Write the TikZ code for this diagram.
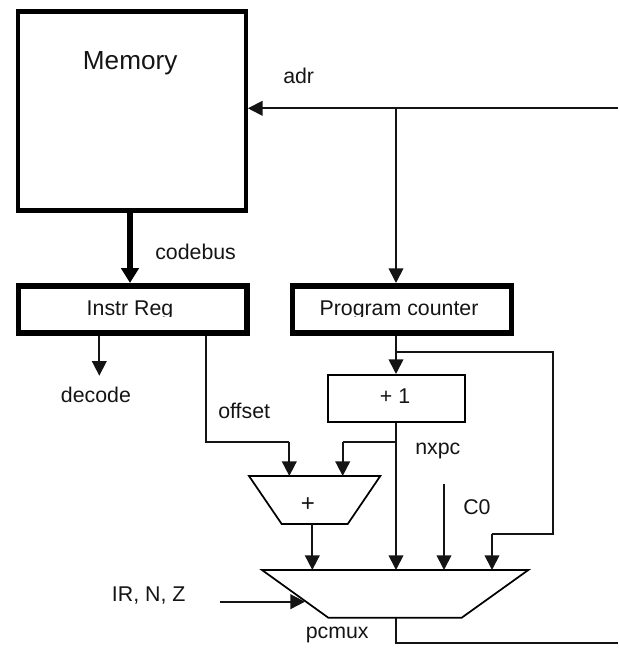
\documentclass[tikz,border=0pt]{standalone}
\usepackage{fontspec}
\setmainfont{Liberation Sans}
\usetikzlibrary{arrows.meta,calc}
\tikzset{
  x=0.75pt, y=-0.75pt,
  wire/.style={line width=1.3pt, draw=black!92},
  flow/.style={wire, -{Triangle[length=11pt,width=11pt]}},
  bus/.style={line width=3.9pt, -{Triangle[length=11.25pt,width=13pt]}},
  regbox/.style={draw, line width=4.2pt, inner sep=0pt, anchor=north west},
  membox/.style={draw, line width=3.2pt, inner sep=0pt, anchor=north west},
  incbox/.style={draw, line width=1.3pt, inner sep=0pt, anchor=north west},
  unit/.style={draw, line width=1.3pt, line join=miter},
  lab/.style={font=\fontsize{16}{16}\selectfont, inner sep=0pt, text=black!92},
  labl/.style={lab, anchor=base west},
  labc/.style={lab, anchor=base},
}
\begin{document}
\begin{tikzpicture}
\useasboundingbox (0,0) rectangle (618,648);
% boxes
\node[membox, minimum width=170.7pt, minimum height=149.4pt] (mem) at (16,9.3) {};
\node[regbox, minimum width=171.5pt, minimum height=35.2pt] (ir) at (15.7,283) {};
\node[regbox, minimum width=164.4pt, minimum height=35.6pt] (pc) at (289.5,283) {};
\node[incbox, minimum width=102.8pt, minimum height=35.2pt] (inc) at (327.3,374) {};
% adder and multiplexer
\coordinate (addTL) at (249,476);
\coordinate (addTR) at (380.3,476);
\coordinate (addBR) at (347.7,524);
\coordinate (addBL) at (281.7,524);
\draw[unit] (addTL) -- (addTR) -- (addBR) -- (addBL) -- cycle;
\coordinate (muxTL) at (262,570);
\coordinate (muxTR) at (528.3,570);
\coordinate (muxBR) at (461.7,617.7);
\coordinate (muxBL) at (328.3,617.7);
\draw[unit] (muxTL) -- (muxTR) -- (muxBR) -- (muxBL) -- cycle;
% labels
\node[labl, font=\fontsize{19.6}{20}\selectfont] (memL) at (82.7,70) {Memory};
\begin{scope}
  \clip (18,286) rectangle (241,316.7);
  \node[labc] (irL) at (130,315) {Instr Reg};
\end{scope}
\begin{scope}
  \clip (293,286) rectangle (505,316.7);
  \node[labc] (pcL) at (399,315) {Program counter};
\end{scope}
\node[labl] (codeL) at (155,259) {codebus};
\node[labl] (adrL) at (283,84) {adr};
\node[labl] (decL) at (60.7,402.7) {decode};
\node[labl] (offL) at (218,418.7) {offset};
\node[labl] (nxpcL) at (415,454) {nxpc};
\node[labl] (c0L) at (463,514) {C0};
\node[labl] (pcmuxL) at (305.5,638) {pcmux};
\node[labl] (irnzL) at (111.7,601) {IR, N, Z};
\node[labc] (incL) at (395,403) {+ 1};
\node[labc, font=\fontsize{18}{18}\selectfont] (addL) at (308,511.5) {+};
% free ends and junctions
\coordinate (adrR) at (618,108.3);
\coordinate (adrJ) at (396,108.3);
\coordinate (pcOut) at (396,352);
\coordinate (fbR) at (553,352);
\coordinate (fbB) at (553,533.7);
\coordinate (fbL) at (492,533.7);
\coordinate (nxJ) at (396,442.3);
\coordinate (nxL) at (342.7,442.3);
\coordinate (offB) at (206,442.3);
\coordinate (offR) at (289.3,442.3);
\coordinate (c0T) at (444,484.3);
\coordinate (irnzS) at (220,601.7);
\coordinate (irnzE) at (305,601.7);
\coordinate (decE) at (99.3,375.7);
\coordinate (outB) at (396,643.3);
\coordinate (outR) at (618,643.3);
% connectors
\draw[bus] (130,0 |- mem.south) -- (130,0 |- ir.north);
\draw[flow] (adrR) -- (mem.east |- adrR);
\draw[flow] (adrJ) -- (adrJ |- pc.north);
\draw[flow] (99.3,0 |- ir.south) -- (decE);
\draw[wire] (adrJ |- pc.south) -- (pcOut);
\draw[flow] (pcOut) -- (pcOut |- inc.north);
\draw[wire] (pcOut) -- (fbR) -- (fbB) -- (fbL);
\draw[flow] (fbL) -- (fbL |- muxTL);
\draw[flow] (pcOut |- inc.south) -- (pcOut |- muxTL);
\draw[wire] (nxJ) -- (nxL);
\draw[flow] (nxL) -- (nxL |- addTL);
\draw[wire] (offB |- ir.south) -- (offB) -- (offR);
\draw[flow] (offR) -- (offR |- addTL);
\draw[flow] (312.3,0 |- addBL) -- (312.3,0 |- muxTL);
\draw[flow] (c0T) -- (c0T |- muxTL);
\draw[flow] (irnzS) -- (irnzE);
\draw[wire] (outB |- muxBL) -- (outB) -- (outR);
\end{tikzpicture}
\end{document}
